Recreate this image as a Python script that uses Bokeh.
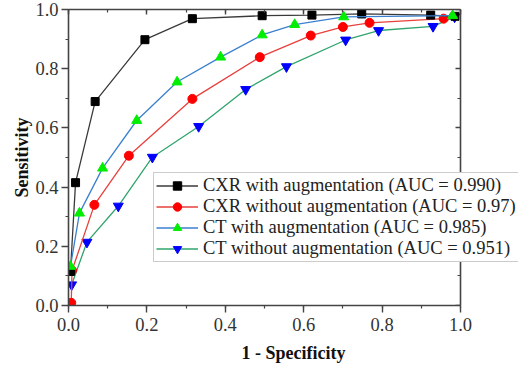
from bokeh.plotting import figure
from bokeh.models import (Range1d, LinearAxis, SingleIntervalTicker, PrintfTickFormatter,
                          Legend, LegendItem)
from bokeh.embed import file_html
from bokeh.resources import INLINE

# ---- data ----
cxr_aug_x = [0.005, 0.018, 0.068, 0.195, 0.316, 0.494, 0.621, 0.748, 0.924, 0.986]
cxr_aug_y = [0.115, 0.415, 0.689, 0.898, 0.969, 0.979, 0.981, 0.985, 0.981, 0.977]

cxr_noaug_x = [0.007, 0.009, 0.066, 0.154, 0.316, 0.488, 0.618, 0.700, 0.768, 0.957]
cxr_noaug_y = [0.009, 0.118, 0.340, 0.506, 0.698, 0.839, 0.912, 0.941, 0.955, 0.969]

ct_aug_x = [0.005, 0.028, 0.087, 0.174, 0.277, 0.388, 0.494, 0.577, 0.702, 0.980]
ct_aug_y = [0.132, 0.312, 0.464, 0.625, 0.755, 0.839, 0.914, 0.949, 0.975, 0.979]

ct_noaug_x = [0.008, 0.047, 0.127, 0.214, 0.332, 0.452, 0.556, 0.707, 0.791, 0.930, 0.985]
ct_noaug_y = [0.070, 0.214, 0.336, 0.501, 0.605, 0.730, 0.807, 0.897, 0.929, 0.943, 0.975]

labels = ["CXR with augmentation (AUC = 0.990)",
          "CXR without augmentation (AUC = 0.97)",
          "CT with augmentation (AUC = 0.985)",
          "CT without augmentation (AUC = 0.951)"]

x_label = "1 - Specificity"
y_label = "Sensitivity"

FONT = "Liberation Serif"
AX = "#444444"

# the frame runs a little past x = 1 so that the legend (which overhangs the
# right axis in the reference) is not clipped; axes are bounded to [0, 1]
p = figure(width=524, height=369, output_backend="svg", toolbar_location=None,
           x_range=Range1d(0, 1.148), y_range=Range1d(0, 1),
           min_border_left=68, min_border_right=6, min_border_top=9, min_border_bottom=64,
           x_axis_label=x_label, y_axis_label=y_label)
p.outline_line_color = None
p.xgrid.visible = False
p.ygrid.visible = False
p.background_fill_color = "white"
p.border_fill_color = "white"


def style_axis(ax, outward=True, show_labels=True):
    ax.ticker = SingleIntervalTicker(interval=0.2, num_minor_ticks=2)
    ax.formatter = PrintfTickFormatter(format="%.1f")
    ax.bounds = (0, 1)
    ax.axis_line_color = AX
    ax.axis_line_width = 1.6
    ax.major_tick_line_color = AX
    ax.minor_tick_line_color = AX
    ax.major_tick_line_width = 1.4
    ax.minor_tick_line_width = 1.2
    if outward:
        ax.major_tick_out = 7
        ax.major_tick_in = 0
        ax.minor_tick_out = 3
        ax.minor_tick_in = 0
    else:
        ax.major_tick_out = 0
        ax.major_tick_in = 5
        ax.minor_tick_out = 0
        ax.minor_tick_in = 3
    ax.major_label_text_font = FONT
    ax.major_label_text_font_size = "18.5px"
    ax.major_label_text_color = "#333333"
    if not show_labels:
        ax.major_label_text_font_size = "0px"
        ax.major_label_text_color = None
        ax.major_label_standoff = 0


style_axis(p.xaxis[0])
style_axis(p.yaxis[0])
p.xaxis[0].major_label_standoff = 5
p.yaxis[0].major_label_standoff = 3
for ax in (p.xaxis[0], p.yaxis[0]):
    ax.axis_label_text_font = FONT
    ax.axis_label_text_font_style = "bold"
    ax.axis_label_text_font_size = "18px"
    ax.axis_label_text_color = "#111111"
p.xaxis[0].axis_label_standoff = 9
p.yaxis[0].axis_label_standoff = 0

top_ax = LinearAxis()
style_axis(top_ax, outward=False, show_labels=False)
p.add_layout(top_ax, "above")
right_ax = LinearAxis(fixed_location=1.0)
style_axis(right_ax, outward=False, show_labels=False)
p.add_layout(right_ax, "right")

# ---- series ----
lw = 1.3
l4 = p.line(ct_noaug_x, ct_noaug_y, line_color="#2fa56d", line_width=lw)
s4 = p.scatter(ct_noaug_x, ct_noaug_y, marker="inverted_triangle", size=10,
               fill_color="#0000ff", line_color="#0000ff")
l2 = p.line(cxr_noaug_x, cxr_noaug_y, line_color="#e8403c", line_width=lw)
s2 = p.scatter(cxr_noaug_x, cxr_noaug_y, marker="circle", size=9,
               fill_color="#ff0000", line_color="#ff0000")
l1 = p.line(cxr_aug_x, cxr_aug_y, line_color="#3a3a3a", line_width=lw)
s1 = p.scatter(cxr_aug_x, cxr_aug_y, marker="square", size=8,
               fill_color="#000000", line_color="#000000")
l3 = p.line(ct_aug_x, ct_aug_y, line_color="#3a80d0", line_width=lw)
s3 = p.scatter(ct_aug_x, ct_aug_y, marker="triangle", size=10,
               fill_color="#00ee00", line_color="#00ee00")

legend = Legend(items=[LegendItem(label=labels[0], renderers=[l1, s1]),
                       LegendItem(label=labels[1], renderers=[l2, s2]),
                       LegendItem(label=labels[2], renderers=[l3, s3]),
                       LegendItem(label=labels[3], renderers=[l4, s4])],
                location=(85, 43))
legend.label_text_font = FONT
legend.label_text_font_size = "18.5px"
legend.label_text_color = "#222222"
legend.padding = 2
legend.margin = 0
legend.spacing = 0
legend.label_height = 21
legend.glyph_height = 21
legend.glyph_width = 42
legend.label_standoff = 5
legend.border_line_color = "#9a9a9a"
legend.border_line_width = 1
legend.background_fill_color = "white"
legend.background_fill_alpha = 1
p.add_layout(legend, "center")

open("out.html", "w").write(file_html(p, INLINE))
